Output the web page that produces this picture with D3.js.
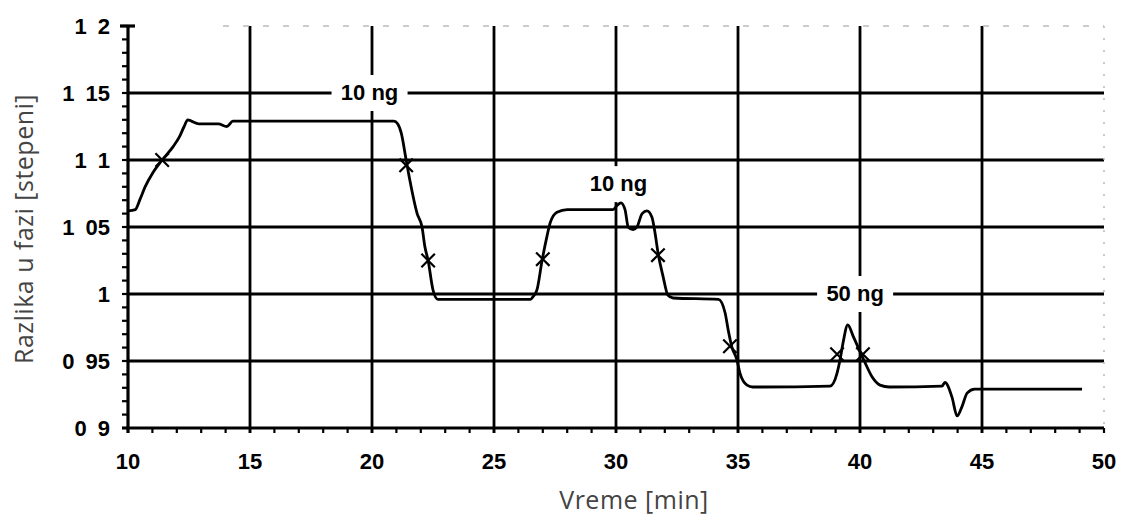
<!DOCTYPE html>
<html>
<head>
<meta charset="utf-8">
<script src="https://cdn.jsdelivr.net/npm/d3@7"></script>
<style>
  body { margin: 0; background: #fff; }
  .tick-lbl { font-family: "Liberation Sans", Arial, sans-serif; font-weight: bold; font-size: 22px; fill: #000; word-spacing: 5px; }
  .axis-title { font-family: "Open Sans", "Noto Sans", sans-serif; font-size: 25px; fill: #444; letter-spacing: 0.5px; }
  .anno { font-family: "Liberation Sans", Arial, sans-serif; font-weight: bold; font-size: 22px; fill: #000; }
</style>
</head>
<body>
<div id="chart"></div>
<script>
// measured curve (time in min, phase difference in degrees)
const timeMin = [10.0, 10.3, 10.5, 10.7, 11.0, 11.4, 11.85, 12.1, 12.3, 12.45, 12.6, 12.9, 13.7, 14.05, 14.3, 15.1,
  20.9, 21.05, 21.2, 21.4, 21.55, 21.85, 22.05, 22.17, 22.3, 22.5, 22.7, 26.5, 26.6, 26.76, 26.97, 27.17, 27.3, 27.58, 28.0,
  29.88, 30.04, 30.2, 30.37, 30.5, 30.7, 30.86, 31.07, 31.27, 31.47, 31.6, 31.72, 31.93, 32.13, 32.34,
  34.2, 34.47, 34.6, 34.75, 34.96, 35.08, 35.37, 35.6, 38.77, 39.06, 39.18, 39.3, 39.5, 39.71, 40.0, 40.2, 40.5, 40.82, 41.2,
  43.36, 43.48, 43.77, 43.98, 44.18, 44.39, 44.7, 49.1]
const phaseDeg = [1.062, 1.063, 1.071, 1.08, 1.09, 1.1, 1.11, 1.117, 1.125, 1.130, 1.129, 1.127, 1.127, 1.125, 1.129, 1.129,
  1.129, 1.127, 1.12, 1.1, 1.085, 1.06, 1.05, 1.035, 1.025, 1.003, 0.996, 0.996, 0.998, 1.003, 1.025, 1.043, 1.053, 1.061, 1.063,
  1.063, 1.066, 1.068, 1.063, 1.05, 1.048, 1.05, 1.06, 1.062, 1.0575, 1.0455, 1.031, 1.013, 0.999, 0.997,
  0.996, 0.986, 0.973, 0.9604, 0.9507, 0.941, 0.932, 0.9306, 0.9313, 0.941, 0.9507, 0.963, 0.977, 0.969, 0.957, 0.949, 0.938, 0.932, 0.9306,
  0.9313, 0.934, 0.923, 0.909, 0.916, 0.926, 0.929, 0.929]

// x markers on the curve
const markerTime = [11.4, 21.4, 22.3, 27.0, 31.72, 34.67, 39.06, 40.12]
const markerPhase = [1.1, 1.096, 1.025, 1.026, 1.029, 0.961, 0.955, 0.955]

// injection labels
const annoText = ["10 ng", "10 ng", "50 ng"]
const annoTime = [19.9, 30.1, 39.8]
const annoPhase = [1.15, 1.082, 1.0]

const xTicks = [10, 15, 20, 25, 30, 35, 40, 45, 50]
const yTicks = [0.9, 0.95, 1, 1.05, 1.1, 1.15, 1.2]
const yTickLabels = ["0 9", "0 95", "1", "1 05", "1 1", "1 15", "1 2"]

const W = 1121, H = 521
const pL = 128, pR = 1104, pT = 26, pB = 428

const svg = d3.select("#chart").append("svg")
  .attr("width", W).attr("height", H)
  .style("background-color", "white")

const x = d3.scaleLinear().domain([10, 50]).range([pL, pR])
const y = d3.scaleLinear().domain([0.9, 1.2]).range([pB, pT])

// grid
const grid = svg.append("g")
grid.selectAll(".hg").data(yTicks.slice(1, -1)).enter().append("line")
  .attr("x1", pL).attr("x2", pR)
  .attr("y1", d => y(d)).attr("y2", d => y(d))
  .attr("stroke", "#000").attr("stroke-width", 2.8)
grid.selectAll(".vg").data(xTicks.slice(1, -1)).enter().append("line")
  .attr("x1", d => x(d)).attr("x2", d => x(d))
  .attr("y1", pT).attr("y2", pB + 5)
  .attr("stroke", "#000").attr("stroke-width", 2.8)

// faint top & right frame (barely printed in the scan)
svg.append("line").attr("x1", pL + 95).attr("x2", pR).attr("y1", pT).attr("y2", pT)
  .attr("stroke", "#bbb").attr("stroke-width", 1.5).attr("stroke-dasharray", "6,14")
svg.append("line").attr("x1", pR).attr("x2", pR).attr("y1", pT).attr("y2", pB)
  .attr("stroke", "#bbb").attr("stroke-width", 1.5).attr("stroke-dasharray", "2,10")

// minor ticks
const yMinor = d3.range(0, 31).map(i => 0.9 + i * 0.01)
svg.selectAll(".ym").data(yMinor).enter().append("line")
  .attr("x1", pL - 6).attr("x2", pL)
  .attr("y1", d => y(d)).attr("y2", d => y(d))
  .attr("stroke", "#000").attr("stroke-width", 2.2)
const xMinor = d3.range(10, 51)
svg.selectAll(".xm").data(xMinor).enter().append("line")
  .attr("x1", d => x(d)).attr("x2", d => x(d))
  .attr("y1", pB).attr("y2", pB + 5)
  .attr("stroke", "#000").attr("stroke-width", 2.2)

// axes lines
svg.append("line").attr("x1", pL).attr("x2", pL).attr("y1", pT).attr("y2", pB + 5)
  .attr("stroke", "#000").attr("stroke-width", 3.2)
svg.append("line").attr("x1", pL - 6).attr("x2", pR).attr("y1", pB).attr("y2", pB)
  .attr("stroke", "#000").attr("stroke-width", 3.2)
svg.append("line").attr("x1", pL - 8).attr("x2", pL + 7).attr("y1", pT).attr("y2", pT)
  .attr("stroke", "#000").attr("stroke-width", 3.2)

// tick labels
svg.selectAll(".yl").data(yTicks).enter().append("text")
  .attr("class", "tick-lbl")
  .attr("x", pL - 18).attr("y", d => y(d))
  .attr("dy", "0.36em").attr("text-anchor", "end")
  .text((d, i) => yTickLabels[i])
svg.selectAll(".xl").data(xTicks).enter().append("text")
  .attr("class", "tick-lbl")
  .attr("x", d => x(d)).attr("y", pB + 33)
  .attr("dy", "0.36em").attr("text-anchor", "middle")
  .text(d => d)

// titles
svg.append("text").attr("class", "axis-title")
  .attr("x", 634).attr("y", 500).attr("dy", "0.35em")
  .attr("text-anchor", "middle").text("Vreme [min]")
svg.append("text").attr("class", "axis-title")
  .attr("transform", "translate(24, 229) rotate(-90)")
  .attr("dy", "0.35em").attr("text-anchor", "middle")
  .text("Razlika u fazi [stepeni]")

// annotations with white boxes that break the grid
const anno = svg.append("g")
annoText.forEach((t, i) => {
  const g = anno.append("g").attr("transform", `translate(${x(annoTime[i])}, ${y(annoPhase[i])})`)
  g.append("rect").attr("x", -38).attr("y", -18).attr("width", 76).attr("height", 36).attr("fill", "#fff")
  g.append("text").attr("class", "anno").attr("text-anchor", "middle").attr("dy", "0.3em").text(t)
})

// curve
const pts = timeMin.map((t, i) => [t, phaseDeg[i]])
const line = d3.line().x(d => x(d[0])).y(d => y(d[1])).curve(d3.curveMonotoneX)
svg.append("path").datum(pts)
  .attr("d", line)
  .attr("fill", "none").attr("stroke", "#000").attr("stroke-width", 2.8)
  .attr("stroke-linejoin", "round")

// x markers
const sym = d3.symbol().type(d3.symbolX).size(120)
svg.selectAll(".mk").data(markerTime).enter().append("path")
  .attr("transform", (d, i) => `translate(${x(d)}, ${y(markerPhase[i])})`)
  .attr("d", sym)
  .attr("fill", "none").attr("stroke", "#000").attr("stroke-width", 2.2)
</script>
</body>
</html>
